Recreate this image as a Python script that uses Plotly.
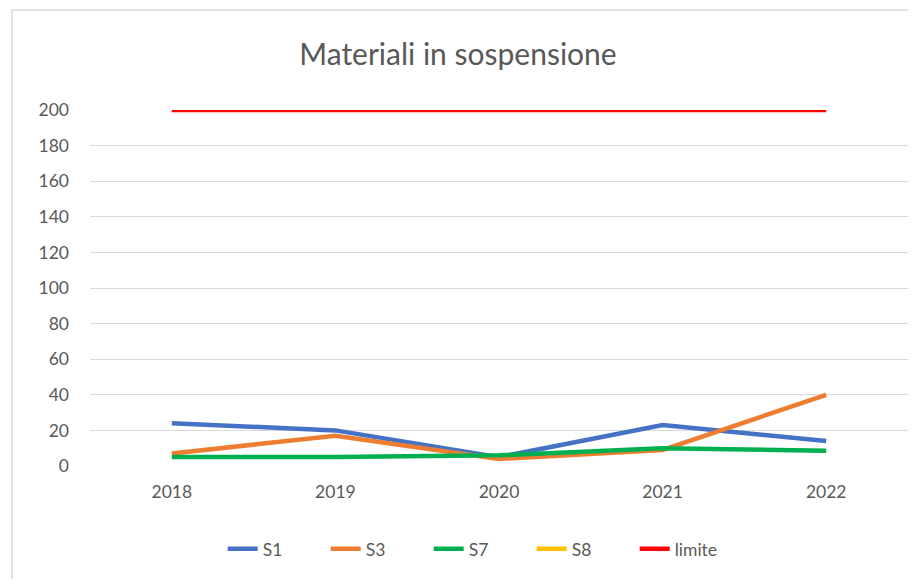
import plotly.graph_objects as go

# Data
years = ["2018", "2019", "2020", "2021", "2022"]
s1 = [24, 20, 5, 23, 14]
s3 = [7, 17, 4, 9, 40]
s7 = [5, 5, 6, 10, 8.5]
s8 = [None, None, None, None, None]
limite = [200, 200, 200, 200, 200]

SERIES = [
    ("S1", s1, "#4472C4"),
    ("S3", s3, "#ED7D31"),
    ("S7", s7, "#00B050"),
    ("S8", s8, "#FFC000"),
    ("limite", limite, "#FF0000"),
]

TEXT = "#595959"
GRID = "#D9D9D9"

fig = go.Figure()
for name, vals, color in SERIES:
    fig.add_trace(go.Scatter(
        x=years, y=vals, mode="lines", name=name,
        line=dict(color=color, width=4.5),
        connectgaps=False,
    ))

fig.update_layout(
    width=900, height=571,
    margin=dict(l=82, r=0, t=102, b=113),
    paper_bgcolor="white", plot_bgcolor="white",
    font=dict(family="Lato, sans-serif", size=17, color=TEXT),
    title=dict(text="Materiali in sospensione", x=0.5, xanchor="center",
               y=0.918, yref="container", yanchor="middle",
               font=dict(size=30, color=TEXT)),
    xaxis=dict(type="category", range=[-0.5, 4.5], showgrid=False,
               zeroline=False, showline=False, ticks="",
               ticklabelstandoff=13, tickfont=dict(size=17.5, color=TEXT)),
    yaxis=dict(range=[0, 200], dtick=20, gridcolor=GRID, gridwidth=1.3,
               zeroline=False, showline=False, ticks="",
               ticklabelstandoff=20, tickfont=dict(size=17.5, color=TEXT)),
    legend=dict(orientation="h", x=0.477, xanchor="center", y=-0.233,
                yanchor="middle", font=dict(size=17.5, color=TEXT),
                bgcolor="rgba(0,0,0,0)", entrywidth=58,
                entrywidthmode="pixels"),
    shapes=[dict(type="rect", xref="paper", yref="paper",
                 x0=-0.0954, x1=1.2, y0=-0.5, y1=1.281,
                 line=dict(color="#D9D9D9", width=1.5), layer="below")],
    showlegend=True,
)

fig.write_html("out.html")
